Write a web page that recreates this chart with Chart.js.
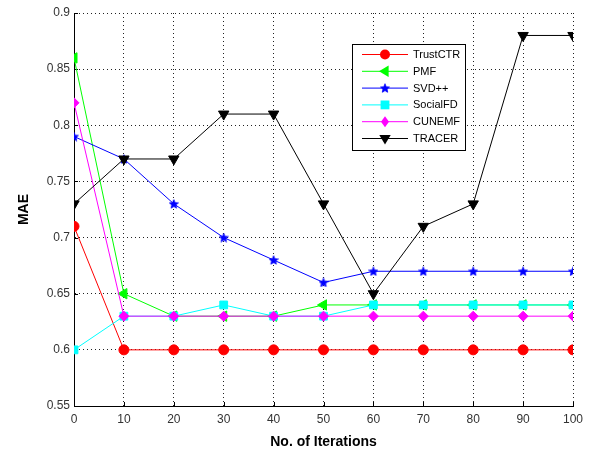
<!DOCTYPE html>
<html>
<head>
<meta charset="utf-8">
<script src="https://cdn.jsdelivr.net/npm/chart.js@4.4.1/dist/chart.umd.min.js"></script>
<style>
html,body{margin:0;padding:0;background:#fff;}
#wrap{width:596px;height:451px;position:relative;}
</style>
</head>
<body>
<div id="wrap"><canvas id="c" width="596" height="451"></canvas></div>
<script>
const iterations = [0,10,20,30,40,50,60,70,80,90,100];
const trustCTR = [0.71,0.60,0.60,0.60,0.60,0.60,0.60,0.60,0.60,0.60,0.60];
const pmf      = [0.86,0.65,0.63,0.63,0.63,0.64,0.64,0.64,0.64,0.64,0.64];
const svdpp    = [0.79,0.77,0.73,0.70,0.68,0.66,0.67,0.67,0.67,0.67,0.67];
const socialFD = [0.60,0.63,0.63,0.64,0.63,0.63,0.64,0.64,0.64,0.64,0.64];
const cunemf   = [0.82,0.63,0.63,0.63,0.63,0.63,0.63,0.63,0.63,0.63,0.63];
const tracer   = [0.73,0.77,0.77,0.81,0.81,0.73,0.65,0.71,0.73,0.88,0.88];
const yTicks = [0.55,0.6,0.65,0.7,0.75,0.8,0.85,0.9];

function makeStar(size, color){
  const cv = document.createElement('canvas');
  cv.width = size; cv.height = size;
  const g = cv.getContext('2d');
  const cx = size/2, cy = size/2 + 0.4, R = size/2 - 0.3, r = R*0.45;
  g.beginPath();
  for(let i=0;i<10;i++){
    const ang = -Math.PI/2 + i*Math.PI/5;
    const rad = i%2===0 ? R : r;
    const px = cx + rad*Math.cos(ang), py = cy + rad*Math.sin(ang);
    if(i===0) g.moveTo(px,py); else g.lineTo(px,py);
  }
  g.closePath();
  g.fillStyle = color; g.fill();
  g.strokeStyle = color; g.lineWidth = 0.8; g.stroke();
  return cv;
}
const starImg = makeStar(10,'#0000ff');

function pts(arr){ return arr.map((v,i)=>({x:iterations[i], y:v})); }

const series = [
  {label:'TrustCTR', data:trustCTR, color:'#ff0000', style:'circle', radius:5, rot:0},
  {label:'PMF', data:pmf, color:'#00ff00', style:'triangle', radius:6, rot:270},
  {label:'SVD++', data:svdpp, color:'#0000ff', style:starImg, radius:5, rot:0},
  {label:'SocialFD', data:socialFD, color:'#00ffff', style:'rect', radius:5.5, rot:0},
  {label:'CUNEMF', data:cunemf, color:'#ff00ff', style:'rectRot', radius:5, rot:0},
  {label:'TRACER', data:tracer, color:'#000000', style:'triangle', radius:6, rot:180}
];

const datasets = series.map((s,i)=>({
  label:s.label,
  data:pts(s.data),
  borderColor:s.color,
  backgroundColor:s.color,
  borderWidth:1,
  pointStyle:s.style,
  pointRadius:s.radius,
  pointRotation:s.rot,
  pointBorderWidth:1,
  pointBorderColor:s.color,
  pointBackgroundColor:s.color,
  tension:0,
  fill:false,
  order: series.length - 1 - i
}));

function drawMarker(ctx, s, x, y){
  ctx.save();
  ctx.fillStyle = s.color; ctx.strokeStyle = s.color;
  const r = s.radius;
  if(s.style === 'circle'){
    ctx.beginPath(); ctx.arc(x,y,r,0,Math.PI*2); ctx.fill();
  } else if(s.style === 'triangle'){
    ctx.translate(x,y); ctx.rotate(s.rot*Math.PI/180);
    ctx.beginPath();
    ctx.moveTo(0,-r); ctx.lineTo(r*0.95, r*0.6); ctx.lineTo(-r*0.95, r*0.6); ctx.closePath(); ctx.fill();
  } else if(s.style === 'rect'){
    ctx.fillRect(x-r*0.8,y-r*0.8,r*1.6,r*1.6);
  } else if(s.style === 'rectRot'){
    ctx.beginPath(); ctx.moveTo(x,y-r*1.1); ctx.lineTo(x+r*0.8,y); ctx.lineTo(x,y+r*1.1); ctx.lineTo(x-r*0.8,y); ctx.closePath(); ctx.fill();
  } else {
    ctx.drawImage(s.style, x-5, y-5, 10, 10);
  }
  ctx.restore();
}

const legendPlugin = {
  id:'boxLegend',
  afterDraw(chart){
    const ctx = chart.ctx;
    const x0 = 352.5, y0 = 44.5, w = 113, h = 106;
    ctx.save();
    ctx.fillStyle = '#fff';
    ctx.fillRect(x0,y0,w,h);
    ctx.strokeStyle = '#000'; ctx.lineWidth = 1;
    ctx.strokeRect(x0,y0,w,h);
    ctx.font = '11px "Liberation Sans", Arial, sans-serif';
    ctx.textBaseline = 'middle';
    ctx.textAlign = 'left';
    series.forEach((s,i)=>{
      const y = 54.5 + i*16.8;
      ctx.strokeStyle = s.color; ctx.lineWidth = 1;
      ctx.beginPath(); ctx.moveTo(362,y); ctx.lineTo(408,y); ctx.stroke();
      drawMarker(ctx, s, 385, y);
      ctx.fillStyle = '#000';
      ctx.fillText(s.label, 413, y+0.5);
    });
    ctx.restore();
  }
};

const fontFam = '"Liberation Sans", Arial, sans-serif';

new Chart(document.getElementById('c'), {
  type:'line',
  data:{datasets},
  options:{
    responsive:false,
    animation:false,
    devicePixelRatio:1,
    layout:{padding:{top:13,right:23,left:16,bottom:0}},
    plugins:{legend:{display:false}, tooltip:{enabled:false}},
    scales:{
      x:{
        type:'linear', min:0, max:100,
        afterBuildTicks(sc){ sc.ticks = iterations.map(v=>({value:v})); },
        afterFit(sc){ sc.height = 45; },
        grid:{color:'#222', lineWidth:1, drawTicks:false},
        border:{display:true, color:'#000', width:1, dash:[1,3]},
        ticks:{color:'#333', font:{family:fontFam, size:12}, padding:6, maxRotation:0, autoSkip:false},
        title:{display:true, text:'No. of Iterations', color:'#000', font:{family:fontFam, size:14, weight:'bold'}, padding:{top:6,bottom:0}}
      },
      y:{
        type:'linear', min:0.55, max:0.9,
        afterBuildTicks(sc){ sc.ticks = yTicks.map(v=>({value:v})); },
        afterFit(sc){ sc.width = 58; },
        grid:{color:'#222', lineWidth:1, drawTicks:false},
        border:{display:true, color:'#000', width:1, dash:[1,3]},
        ticks:{color:'#333', font:{family:fontFam, size:12}, padding:4,
          callback:(v)=>String(parseFloat(Number(v).toFixed(2)))},
        title:{display:true, text:'MAE', color:'#000', font:{family:fontFam, size:14, weight:'bold'}, padding:{top:0,bottom:4}}
      }
    }
  },
  plugins:[legendPlugin, {
    id:'axesLines',
    beforeDatasetsDraw(chart){
      const {ctx, chartArea:a, scales} = chart;
      ctx.save(); ctx.strokeStyle='#000'; ctx.lineWidth=1; ctx.setLineDash([]);
      ctx.beginPath();
      ctx.moveTo(a.left+0.5,a.top); ctx.lineTo(a.left+0.5,a.bottom+0.5); ctx.lineTo(a.right,a.bottom+0.5);
      iterations.forEach(v=>{
        const x = Math.round(scales.x.getPixelForValue(v))+0.5;
        ctx.moveTo(x,a.bottom); ctx.lineTo(x,a.bottom-4);
      });
      yTicks.forEach(v=>{
        const y = Math.round(scales.y.getPixelForValue(v))+0.5;
        ctx.moveTo(a.left,y); ctx.lineTo(a.left+4,y);
      });
      ctx.stroke();
      ctx.restore();
    }
  }]
});
</script>
</body>
</html>
